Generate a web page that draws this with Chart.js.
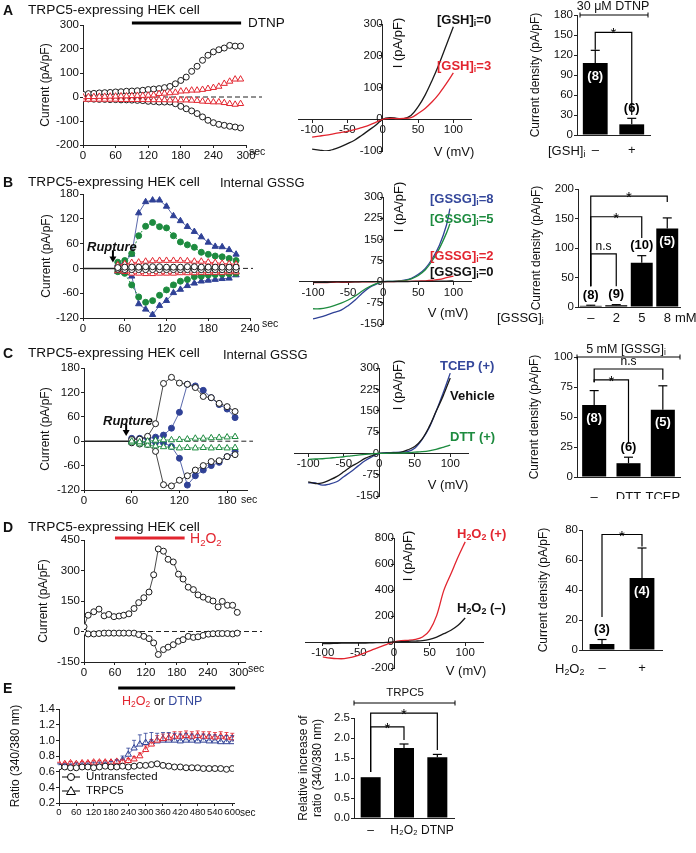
<!DOCTYPE html>
<html>
<head>
<meta charset="utf-8">
<script src="https://cdn.jsdelivr.net/npm/chart.js@4.4.1/dist/chart.umd.min.js"></script>
<style>
  body { margin: 0; background: #fff; }
  #page { position: relative; width: 696px; height: 853px; overflow: hidden; font-family: "Liberation Sans", Arial, sans-serif; color: #111; }
  #page canvas { position: absolute; left: 0; top: 0; }
  .t { position: absolute; white-space: nowrap; line-height: 1; transform: translateY(-50%); z-index: 2; font-size: 13px; }
  .c { transform: translate(-50%, -50%); }
  .v { transform: translate(-50%, -50%) rotate(-90deg); }
  .b { font-weight: bold; }
  .red { color: #e2252f; }
  .blue { color: #34479b; }
  .green { color: #1d8b3f; }
  .t sub { font-size: 0.68em; vertical-align: -0.3em; line-height: 0; }
</style>
</head>
<body>
<div id="page"></div>
<script>
// ---------- A : DTNP time course (sec, pA/pF) ----------
const tA = [0, 10, 20, 30, 40, 50, 60, 70, 80, 90, 100, 110, 120, 130, 140, 150, 160, 170, 180, 190, 200, 210, 220, 230, 240, 250, 260, 270, 280, 290];
const aBlackUp = [11, 14, 15, 17, 18, 19, 21, 22, 24, 25, 26, 28, 31, 33, 35, 39, 44, 55, 69, 83, 107, 128, 153, 174, 188, 197, 204, 215, 212, 212];
const aBlackDown = [-7, -8, -9, -10, -10, -11, -11, -12, -12, -13, -14, -15, -18, -19, -21, -21, -21, -28, -39, -49, -58, -69, -83, -97, -107, -114, -118, -122, -125, -129];
const aRedUp = [0, 1, 1, 2, 2, 3, 3, 4, 4, 5, 6, 6, 7, 8, 14, 15, 17, 19, 24, 25, 28, 28, 31, 35, 39, 44, 56, 65, 74, 74];
const aRedDown = [-10, -10, -10, -10, -10, -10, -10, -11, -11, -11, -11, -11, -12, -12, -12, -12, -13, -13, -13, -13, -14, -15, -18, -19, -21, -21, -24, -28, -31, -28];
const aTimeTicks = [0, 60, 120, 180, 240, 300];
const aCurTicks = [-200, -100, 0, 100, 200, 300];

// I-V curves (mV, pA/pF)
const vIV = [-100, -90, -80, -70, -60, -50, -40, -30, -20, -10, 0, 10, 20, 30, 40, 50, 60, 70, 80, 90, 100];
const vIV95 = [-100, -90, -80, -70, -60, -50, -40, -30, -20, -10, 0, 10, 20, 30, 40, 50, 60, 70, 80, 90, 95];
const aIVgsh0 = [-94, -97, -100, -95, -87, -77, -66, -51, -35, -19, 0, 5, 3, 2, 12, 39, 76, 123, 175, 233, 291];
const aIVgsh3 = [-56, -53, -50, -46, -42, -38, -33, -26, -19, -10, 0, 3, 2, 3, 5, 18, 34, 55, 81, 112, 146];
const ivVoltTicks = [-100, -50, 0, 50, 100];
const aIVTicks = [-100, 0, 100, 200, 300];

// bars
const aBarLabels = ['–', '+'];
const aBarMean = [108, 16];
const aBarErr = [19, 9];
const aBarN = ['(8)', '(6)'];
const aBarTicks = [0, 30, 60, 90, 120, 150, 180];

// ---------- B : internal GSSG ----------
const tB = [50, 60, 70, 80, 90, 100, 110, 120, 130, 140, 150, 160, 170, 180, 190, 200, 210, 220];
const bBlueUp = [11, 15, 34, 134, 161, 165, 165, 150, 127, 115, 101, 89, 76, 63, 53, 52, 45, 34];
const bBlueDown = [-8, -10, -19, -86, -99, -112, -90, -78, -59, -51, -42, -36, -31, -29, -27, -25, -24, -16];
const bGreenUp = [15, 19, 36, 79, 102, 111, 101, 98, 79, 64, 57, 51, 39, 34, 30, 28, 24, 19];
const bGreenDown = [-8, -12, -40, -69, -82, -78, -65, -52, -40, -31, -27, -20, -19, -16, -15, -14, -13, -12];
const bRedUp = [8, 11, 14, 15, 17, 18, 19, 19, 19, 19, 18, 17, 17, 15, 14, 12, 11, 10];
const bRedDown = [-6, -8, -12, -12, -13, -13, -12, -12, -12, -11, -11, -11, -10, -10, -10, -10, -9, -9];
const bBlackUp = [2, 3, 3, 3, 4, 4, 4, 3, 3, 3, 4, 4, 3, 3, 3, 3, 3, 3];
const bBlackDown = [-2, -3, -3, -3, -3, -3, -3, -3, -3, -3, -3, -3, -3, -3, -3, -3, -3, -3];
const bTimeTicks = [0, 60, 120, 180, 240];
const bcCurTicks = [-120, -60, 0, 60, 120, 180];

const bIV8 = [-132, -126, -118, -109, -101, -85, -65, -41, -21, -9, 0, 1, 2, 5, 12, 26, 47, 82, 129, 200, 259];
const bIV5 = [-96, -96, -92, -85, -76, -65, -51, -33, -18, -7, 0, 1, 2, 4, 10, 22, 42, 75, 118, 172, 205];
const bIV2 = [-3, -3, -3, -2, -2, -2, -1, -1, -1, 0, 0, 0, 1, 1, 1, 2, 3, 5, 8, 14, 20];
const bIV0 = [-2, -2, -2, -1, -1, -1, -1, 0, 0, 0, 0, 0, 0, 0, 1, 1, 1, 1, 2, 2, 3];
const bcIVTicks = [-150, -75, 0, 75, 150, 225, 300];

const bBarLabels = ['–', '2', '5', '8'];
const bBarMean = [2, 3, 75, 133];
const bBarErr = [1, 1, 12, 18];
const bBarN = ['(8)', '(9)', '(10)', '(5)'];
const bBarTicks = [0, 50, 100, 150, 200];

// ---------- C : reducing agents ----------
const tC = [60, 70, 80, 90, 100, 110, 120, 130, 140, 150, 160, 170, 180, 190];
const cBlackUp = [4, 5, 12, 43, 142, 157, 143, 140, 132, 110, 107, 93, 85, 73];
const cBlackDown = [-4, -7, -8, -25, -107, -110, -96, -85, -71, -60, -50, -48, -38, -33];
const cBlueUp = [7, 7, 7, 10, 15, 32, 71, 140, 136, 125, 107, 90, 79, 58];
const cBlueDown = [-3, -3, -4, -3, -4, -13, -42, -108, -85, -71, -60, -52, -38, -25];
const cGreenUp = [0, -2, 0, 2, 3, 3, 4, 5, 7, 7, 8, 9, 10, 11];
const cGreenDown = [-3, -7, -10, -12, -14, -15, -17, -16, -17, -16, -17, -16, -17, -16];
const cTimeTicks = [0, 60, 120, 180];

const cIVtcep = [-104, -104, -112, -108, -100, -82, -65, -45, -26, -12, 0, 2, 3, 4, 6, 18, 47, 88, 147, 212, 282];
const cIVveh = [-100, -106, -104, -94, -82, -65, -47, -33, -18, -8, 0, 1, 2, 3, 12, 24, 49, 92, 147, 202, 265];
const cIVdtt = [-21, -20, -19, -17, -14, -12, -9, -6, -4, -2, 0, 0, 1, 1, 2, 4, 6, 9, 14, 21, 29];

const cBarLabels = ['–', 'DTT', 'TCEP'];
const cBarMean = [60, 11.5, 56];
const cBarErr = [12, 5, 20];
const cBarN = ['(8)', '(6)', '(5)'];
const cBarTicks = [0, 25, 50, 75, 100];

// ---------- D : H2O2 ----------
const tD = [0, 8, 19, 29, 39, 48, 58, 68, 77, 87, 97, 106, 116, 126, 135, 144, 154, 163, 173, 183, 192, 202, 212, 221, 231, 241, 250, 260, 268, 278, 288, 297];
const dUp = [24, 80, 97, 110, 77, 84, 73, 76, 80, 87, 113, 142, 166, 194, 279, 406, 395, 355, 342, 282, 258, 218, 206, 180, 169, 158, 150, 121, 148, 129, 129, 94];
const dDown = [-3, -12, -12, -10, -8, -8, -8, -8, -8, -8, -8, -15, -24, -35, -56, -113, -89, -77, -65, -48, -40, -24, -29, -26, -19, -13, -11, -10, -10, -10, -12, -8];
const dTimeTicks = [0, 60, 120, 180, 240, 300];
const dCurTicks = [-150, 0, 150, 300, 450];

const dIVplus = [-115, -123, -128, -128, -118, -103, -82, -59, -38, -18, 0, 10, 13, 20, 38, 90, 205, 397, 525, 654, 770];
const dIVminus = [-13, -12, -10, -9, -8, -8, -8, -6, -5, -3, 0, 2, 5, 7, 10, 20, 38, 64, 90, 128, 185];
const dIVTicks = [-200, 0, 200, 400, 600, 800];

const dBarLabels = ['–', '+'];
const dBarMean = [4, 48];
const dBarErr = [3, 20];
const dBarN = ['(3)', '(4)'];
const dBarTicks = [0, 20, 40, 60, 80];

// ---------- E : calcium ratio ----------
const tE = [0, 20, 40, 60, 80, 100, 120, 140, 160, 180, 200, 220, 240, 260, 280, 300, 320, 340, 360, 380, 400, 420, 440, 460, 480, 500, 520, 540, 560, 580, 600];
const eUntr = [0.66, 0.66, 0.65, 0.65, 0.66, 0.66, 0.65, 0.66, 0.67, 0.66, 0.66, 0.67, 0.66, 0.67, 0.68, 0.68, 0.69, 0.70, 0.68, 0.67, 0.66, 0.66, 0.65, 0.65, 0.65, 0.64, 0.64, 0.64, 0.64, 0.63, 0.64];
const eH2O2 = [0.70, 0.70, 0.71, 0.70, 0.71, 0.71, 0.72, 0.72, 0.72, 0.72, 0.73, 0.73, 0.74, 0.76, 0.80, 0.88, 0.95, 1.00, 1.02, 1.03, 1.05, 1.05, 1.06, 1.05, 1.06, 1.05, 1.05, 1.04, 1.05, 1.04, 1.03];
const eH2O2Err = [0.02, 0.02, 0.02, 0.02, 0.02, 0.02, 0.02, 0.02, 0.02, 0.02, 0.02, 0.02, 0.03, 0.03, 0.04, 0.05, 0.06, 0.06, 0.06, 0.06, 0.06, 0.06, 0.06, 0.06, 0.06, 0.06, 0.06, 0.06, 0.06, 0.06, 0.06];
const eDTNP = [0.68, 0.68, 0.68, 0.69, 0.69, 0.69, 0.70, 0.70, 0.70, 0.71, 0.72, 0.75, 0.82, 0.90, 0.95, 0.97, 0.98, 0.99, 1.00, 1.00, 1.00, 0.99, 1.00, 1.00, 0.99, 1.00, 0.99, 0.99, 0.98, 0.98, 0.98];
const eDTNPErr = [0.02, 0.02, 0.02, 0.02, 0.02, 0.02, 0.02, 0.02, 0.02, 0.02, 0.03, 0.05, 0.08, 0.10, 0.12, 0.12, 0.12, 0.10, 0.10, 0.10, 0.09, 0.09, 0.09, 0.08, 0.08, 0.08, 0.08, 0.08, 0.08, 0.08, 0.08];
const eTimeTicks = [0, 60, 120, 180, 240, 300, 360, 420, 480, 540, 600];
const eRatioTicks = [0.2, 0.4, 0.6, 0.8, 1.0, 1.2, 1.4];

const eBarLabels = ['–', 'H₂O₂', 'DTNP'];
const eBarMean = [1.02, 1.75, 1.52];
const eBarErr = [0, 0.1, 0.07];
const eBarN = ['', '', ''];
const eBarTicks = [0, 0.5, 1.0, 1.5, 2.0, 2.5];

// ---------- colours ----------
const black = '#1a1a1a';
const red = '#e2252f';
const blue = '#2f4196';
const green = '#1d8b3f';

// ---------- helpers ----------
const W = 696, H = 853;
const page = document.getElementById('page');
const FONT = "'Liberation Sans', Arial, sans-serif";
Chart.defaults.font.family = FONT;
Chart.defaults.color = '#111';
Chart.defaults.animation = false;
Chart.defaults.responsive = false;
Chart.defaults.plugins.legend.display = false;
Chart.defaults.plugins.tooltip.enabled = false;

function makeCanvas() {
  const c = document.createElement('canvas');
  c.width = W; c.height = H;
  page.appendChild(c);
  return c;
}

// padding that puts the plot area at [x0,x1] x [y0,y1] of the page
function plotPadding(box, yw, xh) {
  return { left: box[0] - yw, top: box[1], right: W - box[2], bottom: H - box[3] - xh };
}

function pts(xs, ys) { return xs.map((x, i) => ({ x: x, y: ys[i] })); }

function linAxis(min, max, ticks, dir, size, title, fmt, fontSize) {
  return {
    type: 'linear', min: min, max: max,
    position: dir === 'x' ? 'bottom' : 'left',
    grid: { display: true, drawOnChartArea: false, tickLength: 3, color: '#222' },
    border: { color: '#222', width: 1 },
    ticks: { font: { size: fontSize || 11.5 }, padding: 1, color: '#111', autoSkip: false, maxRotation: 0,
      callback: fmt || (v => String(v)) },
    title: title ? { display: true, text: title, font: { size: 12 }, padding: 0, color: '#111' } : { display: false },
    afterBuildTicks: s => { s.ticks = ticks.map(v => ({ value: v })); },
    afterFit: s => { if (dir === 'x') s.height = size; else s.width = size; }
  };
}

function markers(xs, ys, color, style, filled, lineW, dash) {
  return {
    data: pts(xs, ys),
    showLine: lineW > 0,
    borderColor: color,
    borderWidth: lineW,
    borderDash: dash || [],
    pointStyle: style,
    pointRadius: style === 'triangle' ? 3.6 : 3,
    pointBorderWidth: 1,
    pointBorderColor: color,
    pointBackgroundColor: filled ? color : '#fff'
  };
}

function line(ctx, x1, y1, x2, y2) { ctx.beginPath(); ctx.moveTo(x1, y1); ctx.lineTo(x2, y2); ctx.stroke(); }

// time course chart with the 0 pA/pF reference line, rupture arrow and drug bar
function timeChart(o) {
  return new Chart(makeCanvas(), {
    type: 'line',
    data: { datasets: o.datasets },
    options: {
      layout: { padding: plotPadding(o.box, o.yw, 18) },
      scales: {
        x: linAxis(o.x[0], o.x[1], o.xTicks, 'x', 18, null, null, o.xFont),
        y: linAxis(o.y[0], o.y[1], o.yTicks, 'y', o.yw, o.yTitle, o.yFmt)
      }
    },
    plugins: [{
      id: 'timeExtras',
      beforeDatasetsDraw(chart) {
        const ctx = chart.ctx, xs = chart.scales.x, ys = chart.scales.y, a = chart.chartArea;
        ctx.save();
        ctx.strokeStyle = '#222';
        if (o.zero) {
          const y = ys.getPixelForValue(0);
          const xm = o.zero.solidTo ? xs.getPixelForValue(o.zero.solidTo) : a.left;
          if (o.zero.solidTo) { ctx.lineWidth = 1.5; line(ctx, a.left, y, xm, y); }
          ctx.lineWidth = 1; ctx.setLineDash([5, 3]);
          line(ctx, xm, y, a.right + o.zero.extend, y);
          ctx.setLineDash([]);
        }
        if (o.arrow) {
          const x = xs.getPixelForValue(o.arrow[0]);
          const y1 = ys.getPixelForValue(o.arrow[1]), y2 = ys.getPixelForValue(o.arrow[2]);
          ctx.lineWidth = 2; ctx.strokeStyle = '#000';
          line(ctx, x, y1, x, y2 - 4);
          ctx.fillStyle = '#000';
          ctx.beginPath(); ctx.moveTo(x - 3.5, y2 - 6); ctx.lineTo(x + 3.5, y2 - 6); ctx.lineTo(x, y2); ctx.fill();
        }
        if (o.drug) {
          ctx.lineWidth = 3; ctx.strokeStyle = o.drug.color;
          const y = a.top - o.drug.above;
          line(ctx, xs.getPixelForValue(o.drug.from), y, xs.getPixelForValue(o.drug.to), y);
        }
        ctx.restore();
      },
      afterDatasetsDraw(chart) {
        if (!o.errors && !o.legend) return;
        const ctx = chart.ctx, xs = chart.scales.x, ys = chart.scales.y;
        ctx.save();
        (o.errors || []).forEach(e => {
          ctx.strokeStyle = e.color; ctx.lineWidth = 0.8;
          e.t.forEach((t, i) => {
            const x = xs.getPixelForValue(t);
            const y1 = ys.getPixelForValue(e.mean[i]), y2 = ys.getPixelForValue(e.mean[i] + e.err[i]);
            line(ctx, x, y1, x, y2); line(ctx, x - 2, y2, x + 2, y2);
          });
        });
        (o.legend || []).forEach(l => {
          ctx.strokeStyle = '#000'; ctx.lineWidth = 1;
          line(ctx, l.x - 9, l.y, l.x + 9, l.y);
          ctx.fillStyle = '#fff';
          ctx.beginPath();
          if (l.style === 'circle') ctx.arc(l.x, l.y, 3.5, 0, Math.PI * 2);
          else { ctx.moveTo(l.x, l.y - 4.5); ctx.lineTo(l.x + 4.5, l.y + 3.5); ctx.lineTo(l.x - 4.5, l.y + 3.5); ctx.closePath(); }
          ctx.fill(); ctx.stroke();
        });
        ctx.restore();
      }
    }]
  });
}

// I-V relation with axes crossing at the origin
function ivChart(o) {
  const x = linAxis(o.x[0], o.x[1], ivVoltTicks, 'x', 0);
  const y = linAxis(o.y[0], o.y[1], o.yTicks, 'y', 0);
  x.position = { y: 0 }; y.position = { x: 0 };
  delete x.afterFit; delete y.afterFit;
  return new Chart(makeCanvas(), {
    type: 'line',
    data: {
      datasets: o.curves.map(cv => ({
        data: pts(cv.v, cv.i), borderColor: cv.color, borderWidth: 1.3,
        pointRadius: 0, tension: 0.35, fill: false
      }))
    },
    options: {
      layout: { padding: { left: o.box[0], top: o.box[1], right: W - o.box[2], bottom: H - o.box[3] } },
      scales: { x: x, y: y }
    }
  });
}

// summary bars with one-sided SEM, n labels and significance brackets
function barChart(o) {
  return new Chart(makeCanvas(), {
    type: 'bar',
    data: {
      labels: o.labels,
      datasets: [{ data: o.means, backgroundColor: '#000', borderWidth: 0, barPercentage: o.barPct, categoryPercentage: 1 }]
    },
    options: {
      layout: { padding: plotPadding(o.box, o.yw, 22) },
      scales: {
        x: {
          type: 'category', offset: true,
          grid: { display: false, drawTicks: false },
          border: { color: '#222', width: 1 },
          ticks: { font: { size: o.xFont || 13 }, color: '#111', padding: o.xPad, maxRotation: 0, autoSkip: false },
          afterFit: s => { s.height = 22; }
        },
        y: linAxis(0, o.yMax, o.yTicks, 'y', o.yw, o.yTitle, o.yFmt)
      }
    },
    plugins: [{
      id: 'barExtras',
      afterDatasetsDraw(chart) {
        const ctx = chart.ctx, xs = chart.scales.x, ys = chart.scales.y, a = chart.chartArea;
        ctx.save();
        ctx.strokeStyle = '#000'; ctx.lineWidth = 1.2;
        ctx.textAlign = 'center';
        o.means.forEach((m, i) => {
          const x = xs.getPixelForValue(i);
          const yBar = ys.getPixelForValue(m), yTop = ys.getPixelForValue(m + o.errs[i]);
          if (o.errs[i] > 0) { line(ctx, x, yBar, x, yTop); line(ctx, x - 4.5, yTop, x + 4.5, yTop); }
          ctx.font = 'bold 13px ' + FONT; ctx.textBaseline = 'middle';
          if (m > 0.5 * o.yMax) { ctx.fillStyle = '#fff'; ctx.fillText(o.ns[i], x, yBar + 13); }
          else { ctx.fillStyle = '#000'; ctx.fillText(o.ns[i], x, yTop - 10); }
        });
        ctx.fillStyle = '#000';
        (o.brackets || []).forEach(b => {
          const x1 = xs.getPixelForValue(b[0]), x2 = xs.getPixelForValue(b[1]);
          const yt = ys.getPixelForValue(b[2]);
          ctx.beginPath();
          ctx.moveTo(x1, ys.getPixelForValue(b[3])); ctx.lineTo(x1, yt);
          ctx.lineTo(x2, yt); ctx.lineTo(x2, ys.getPixelForValue(b[4]));
          ctx.stroke();
          if (b[5] === '*') { ctx.font = '15px ' + FONT; ctx.textBaseline = 'alphabetic'; ctx.fillText('*', (x1 + x2) / 2, yt + 6); }
          else { ctx.font = '12px ' + FONT; ctx.textBaseline = 'bottom'; ctx.fillText(b[5], (x1 + x2) / 2, yt - 1); }
        });
        if (o.topLine) {
          const y = a.top - o.topLine.above, x1 = a.left + o.topLine.l, x2 = a.right + o.topLine.r;
          ctx.lineWidth = 1;
          line(ctx, x1, y, x2, y); line(ctx, x1, y - 2.5, x1, y + 2.5); line(ctx, x2, y - 2.5, x2, y + 2.5);
        }
        ctx.restore();
      }
    }]
  });
}

// ---------- charts ----------
timeChart({
  box: [83, 25, 246, 145], yw: 45, x: [0, 300], y: [-200, 300], xTicks: aTimeTicks, yTicks: aCurTicks,
  yTitle: 'Current (pA/pF)', zero: { extend: 16 }, drug: { from: 90, to: 291, above: 2, color: '#000' },
  datasets: [
    markers(tA, aRedUp, red, 'triangle', false, 0), markers(tA, aRedDown, red, 'triangle', false, 0),
    markers(tA, aBlackUp, black, 'circle', false, 0), markers(tA, aBlackDown, black, 'circle', false, 0)
  ]
});
ivChart({
  box: [298, 24, 471, 151], x: [-120, 125], y: [-100, 300], yTicks: aIVTicks,
  curves: [{ v: vIV, i: aIVgsh3, color: red }, { v: vIV, i: aIVgsh0, color: black }]
});
barChart({
  box: [577, 15, 650, 135], yw: 49, labels: aBarLabels, means: aBarMean, errs: aBarErr, ns: aBarN,
  yMax: 180, yTicks: aBarTicks, yTitle: 'Current density (pA/pF)', barPct: 0.68, xPad: 8,
  brackets: [[0, 1, 154, 128, 30, '*']], topLine: { above: 0, l: 3, r: -2 }
});

timeChart({
  box: [83, 194, 250, 318], yw: 44, x: [0, 240], y: [-120, 180], xTicks: bTimeTicks, yTicks: bcCurTicks,
  yTitle: 'Current (pA/pF)', zero: { solidTo: 46, extend: 3 }, arrow: [43, 44, 14],
  datasets: [
    markers(tB, bBlackUp, black, 'circle', false, 0.8), markers(tB, bBlackDown, black, 'circle', false, 0.8),
    markers(tB, bRedUp, red, 'triangle', false, 0.8), markers(tB, bRedDown, red, 'triangle', false, 0.8),
    markers(tB, bGreenUp, green, 'circle', true, 1, [2, 2]), markers(tB, bGreenDown, green, 'circle', true, 1, [2, 2]),
    markers(tB, bBlueUp, blue, 'triangle', true, 0.8), markers(tB, bBlueDown, blue, 'triangle', true, 0.8)
  ]
});
ivChart({
  box: [299, 197, 471, 324], x: [-120, 125], y: [-150, 300], yTicks: bcIVTicks,
  curves: [{ v: vIV, i: bIV0, color: black }, { v: vIV, i: bIV2, color: red },
           { v: vIV95, i: bIV5, color: green }, { v: vIV95, i: bIV8, color: blue }]
});
barChart({
  box: [578, 189, 680, 307], yw: 49, labels: bBarLabels, means: bBarMean, errs: bBarErr, ns: bBarN,
  yMax: 200, yTicks: bBarTicks, yTitle: 'Current density (pA/pF)', barPct: 0.86, xPad: 4,
  brackets: [[0, 1, 90, 35, 35, 'n.s'], [0, 2, 153, 35, 117, '*'], [0, 3, 188, 35, 178, '*']]
});

timeChart({
  box: [84, 368, 247, 490], yw: 46, x: [0, 205], y: [-120, 180], xTicks: cTimeTicks, yTicks: bcCurTicks,
  yTitle: 'Current (pA/pF)', zero: { solidTo: 57, extend: 6 }, arrow: [53, 42, 13],
  datasets: [
    markers(tC, cGreenUp, green, 'triangle', false, 0.8), markers(tC, cGreenDown, green, 'triangle', false, 0.8),
    markers(tC, cBlackUp, black, 'circle', false, 0.8), markers(tC, cBlackDown, black, 'circle', false, 0.8),
    markers(tC, cBlueUp, blue, 'circle', true, 0.8), markers(tC, cBlueDown, blue, 'circle', true, 0.8)
  ]
});
ivChart({
  box: [294, 368, 468, 496], x: [-120, 125], y: [-150, 300], yTicks: bcIVTicks,
  curves: [{ v: vIV, i: cIVdtt, color: green }, { v: vIV, i: cIVveh, color: black }, { v: vIV, i: cIVtcep, color: blue }]
});
barChart({
  box: [577, 357, 680, 477], yw: 50, labels: cBarLabels, means: cBarMean, errs: cBarErr, ns: cBarN,
  yMax: 100, yTicks: cBarTicks, yTitle: 'Current density (pA/pF)', barPct: 0.7, xPad: 13,
  brackets: [[0, 2, 90, 79, 81, 'n.s'], [0, 1, 81, 79, 28, '*']], topLine: { above: 0, l: 0, r: 0 }
});

timeChart({
  box: [84, 540, 245, 662], yw: 48, x: [0, 312], y: [-150, 450], xTicks: dTimeTicks, yTicks: dCurTicks,
  yTitle: 'Current (pA/pF)', zero: { extend: 17 }, drug: { from: 60, to: 195, above: 2, color: red },
  datasets: [markers(tD, dUp, black, 'circle', false, 0.8), markers(tD, dDown, black, 'circle', false, 0.8)]
});
ivChart({
  box: [305, 538, 483, 668], x: [-125, 125], y: [-200, 800], yTicks: dIVTicks,
  curves: [{ v: vIV, i: dIVminus, color: black }, { v: vIV, i: dIVplus, color: red }]
});
barChart({
  box: [582, 530, 662, 650], yw: 46, labels: dBarLabels, means: dBarMean, errs: dBarErr, ns: dBarN,
  yMax: 80, yTicks: dBarTicks, yTitle: 'Current density (pA/pF)', barPct: 0.62, xPad: 11,
  brackets: [[0, 1, 77, 22, 69, '*']]
});

timeChart({
  box: [59, 709, 234, 803], yw: 51, x: [0, 606], y: [0.2, 1.4], xTicks: eTimeTicks, yTicks: eRatioTicks, xFont: 9.5,
  yTitle: 'Ratio (340/380 nm)', yFmt: v => v.toFixed(1), drug: { from: 205, to: 610, above: 21, color: '#000' },
  errors: [{ t: tE, mean: eH2O2, err: eH2O2Err, color: red }, { t: tE, mean: eDTNP, err: eDTNPErr, color: blue }],
  legend: [{ x: 71, y: 777, style: 'circle' }, { x: 71, y: 791, style: 'triangle' }],
  datasets: [
    markers(tE, eUntr, black, 'circle', false, 0.8),
    markers(tE, eH2O2, red, 'triangle', false, 0.8),
    markers(tE, eDTNP, blue, 'triangle', false, 0.8)
  ]
});
barChart({
  box: [354, 718, 454, 818], yw: 58, labels: eBarLabels, means: eBarMean, errs: eBarErr, ns: eBarN,
  yMax: 2.5, yTicks: eBarTicks, yTitle: ['Relative increase of', 'ratio (340/380 nm)'], yFmt: v => v.toFixed(1),
  barPct: 0.6, xPad: 5, xFont: 12,
  brackets: [[0, 1, 2.28, 1.15, 1.95, '*'], [0, 2, 2.62, 1.15, 1.7, '*']], topLine: { above: 15, l: 0, r: 1 }
});

// ---------- free text ----------
const H2O2 = 'H<sub>2</sub>O<sub>2</sub>';
const texts = [
  ['A', 3, 10, 'b', 14], ['TRPC5-expressing HEK cell', 28, 10, '', 13.7], ['DTNP', 248, 23, '', 13.5],
  ['sec', 249, 151, '', 10.5], ['[GSH]<sub>i</sub>=0', 437, 19, 'b', 13], ['[GSH]<sub>i</sub>=3', 437, 65, 'b red', 13],
  ['I (pA/pF)', 397, 43, 'v', 13], ['V (mV)', 454, 151, 'c', 13], ['30 μM DTNP', 613, 6, 'c', 12.5],
  ['[GSH]<sub>i</sub>', 548, 150, '', 13],

  ['B', 3, 182, 'b', 14], ['TRPC5-expressing HEK cell', 28, 182, '', 13.7], ['Internal GSSG', 220, 182, '', 13],
  ['<i>Rupture</i>', 87, 246, 'b', 13], ['sec', 262, 323, '', 10.5],
  ['[GSSG]<sub>i</sub>=8', 430, 198, 'b blue', 13], ['[GSSG]<sub>i</sub>=5', 430, 218, 'b green', 13],
  ['[GSSG]<sub>i</sub>=2', 430, 255, 'b red', 13], ['[GSSG]<sub>i</sub>=0', 430, 271, 'b', 13],
  ['I (pA/pF)', 398, 207, 'v', 13], ['V (mV)', 448, 312, 'c', 13],
  ['[GSSG]<sub>i</sub>', 497, 317, '', 13], ['mM', 675, 317, '', 13],

  ['C', 3, 353, 'b', 14], ['TRPC5-expressing HEK cell', 28, 353, '', 13.7], ['Internal GSSG', 223, 354, '', 13],
  ['<i>Rupture</i>', 103, 420, 'b', 13], ['sec', 241, 499, '', 10.5],
  ['TCEP (+)', 440, 365, 'b blue', 13], ['Vehicle', 450, 395, 'b', 13], ['DTT (+)', 450, 436, 'b green', 13],
  ['I (pA/pF)', 397, 385, 'v', 13], ['V (mV)', 448, 484, 'c', 13], ['5 mM [GSSG]<sub>i</sub>', 626, 349, 'c', 12.5],

  ['D', 3, 527, 'b', 14], ['TRPC5-expressing HEK cell', 28, 527, '', 13.7], [H2O2, 190, 538, 'red', 14],
  ['sec', 248, 668, '', 10.5], [H2O2 + ' (+)', 457, 533, 'b red', 13], [H2O2 + ' (–)', 457, 607, 'b', 13],
  ['I (pA/pF)', 407, 556, 'v', 13], ['V (mV)', 466, 670, 'c', 13], [H2O2, 555, 668, '', 13],

  ['E', 3, 688, 'b', 14], ['<span class="red">' + H2O2 + '</span> or <span class="blue">DTNP</span>', 122, 701, '', 12.5],
  ['Untransfected', 86, 777, '', 11.5], ['TRPC5', 86, 791, '', 11.5], ['TRPC5', 405, 693, 'c', 11.5],
  ['sec', 240, 813, '', 10]
];
texts.forEach(t => {
  const d = document.createElement('div');
  d.className = 't ' + t[3];
  d.innerHTML = t[0];
  d.style.left = t[1] + 'px';
  d.style.top = t[2] + 'px';
  d.style.fontSize = t[4] + 'px';
  page.appendChild(d);
});
</script>
</body>
</html>
